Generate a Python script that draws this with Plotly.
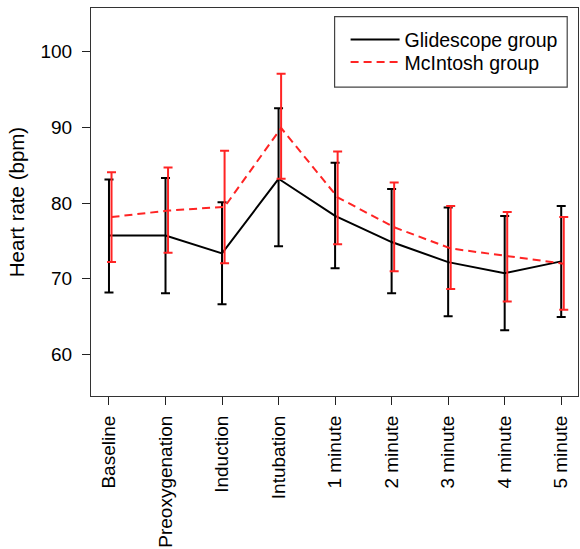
import plotly.graph_objects as go

categories = ["Baseline", "Preoxygenation", "Induction", "Intubation", "1 minute",
              "2 minute", "3 minute", "4 minute", "5 minute"]

glide_mean = [75.7, 75.7, 73.35, 83.2, 78.3, 74.85, 72.2, 70.75, 72.3]
glide_upper = [83.1, 83.3, 80.1, 92.5, 85.3, 81.85, 79.4, 78.3, 79.6]
glide_lower = [68.2, 68.1, 66.65, 74.3, 71.4, 68.1, 65.05, 63.2, 64.95]

mcin_mean = [78.15, 79.0, 79.5, 89.9, 80.75, 76.8, 74.0, 73.0, 72.0]
mcin_upper = [84.05, 84.7, 86.9, 97.05, 86.8, 82.7, 79.6, 78.8, 78.15]
mcin_lower = [72.2, 73.45, 72.05, 83.2, 74.55, 71.0, 68.65, 67.0, 65.9]

y_ticks = [60, 70, 80, 90, 100]

x_idx = list(range(len(categories)))
red_offset = 0.045
x_red = [i + red_offset for i in x_idx]

RED = "#ff2424"

# plot-area geometry in pixels (for paper-coordinate conversions)
L, R, T, B = 91.3, 578.5, 8.3, 395.7
PW, PH = R - L, B - T


def px(xp):
    return (xp - L) / PW


def py(yp):
    return 1 - (yp - T) / PH


fig = go.Figure()

fig.add_trace(go.Scatter(
    x=x_idx, y=glide_mean, mode="lines", name="Glidescope group",
    line=dict(color="black", width=2), legend="legend",
    error_y=dict(type="data", symmetric=False,
                 array=[u - m for u, m in zip(glide_upper, glide_mean)],
                 arrayminus=[m - l for m, l in zip(glide_mean, glide_lower)],
                 color="black", thickness=2, width=4.5),
))

fig.add_trace(go.Scatter(
    x=x_red, y=mcin_mean, mode="lines", name="McIntosh group",
    line=dict(color=RED, width=2, dash="8px,5px"), legend="legend2",
    error_y=dict(type="data", symmetric=False,
                 array=[u - m for u, m in zip(mcin_upper, mcin_mean)],
                 arrayminus=[m - l for m, l in zip(mcin_mean, mcin_lower)],
                 color=RED, thickness=2, width=4.5),
))

# legend frame
fig.add_shape(type="rect", xref="paper", yref="paper",
              x0=px(335), x1=px(567.7), y0=py(87.3), y1=py(17.0),
              line=dict(color="#444", width=1.2), fillcolor="white", layer="above")

leg_common = dict(xanchor="left", yanchor="middle", borderwidth=0,
                  bgcolor="rgba(0,0,0,0)", font=dict(size=19.5), itemwidth=49)

fig.update_layout(
    width=580, height=549,
    margin=dict(l=L, r=580 - R, t=T, b=549 - B, autoexpand=False),
    paper_bgcolor="white", plot_bgcolor="white",
    font=dict(family="Liberation Sans, Arial, sans-serif", color="black", size=19),
    showlegend=True,
    legend=dict(x=px(346), y=py(40), **leg_common),
    legend2=dict(x=px(346), y=py(62.5), **leg_common),
)

fig.update_xaxes(
    range=[-0.318, 8.297], tickmode="array", tickvals=x_idx, ticktext=categories,
    tickangle=-90, ticks="outside", ticklen=8, tickwidth=1.2, tickcolor="#222",
    showline=True, linecolor="#333", linewidth=1.2, mirror=True,
    showgrid=False, zeroline=False, tickfont=dict(size=19), ticklabelstandoff=3,
)
fig.update_yaxes(
    range=[54.53, 105.74], tickmode="array", tickvals=y_ticks,
    ticks="outside", ticklen=8, tickwidth=1.2, tickcolor="#222",
    showline=True, linecolor="#333", linewidth=1.2, mirror=True,
    showgrid=False, zeroline=False, tickfont=dict(size=19), ticklabelstandoff=6,
    title=dict(text="Heart rate (bpm)", font=dict(size=20.5), standoff=10),
)

fig.write_html("out.html", config={"displayModeBar": False},
               post_script="document.body.style.margin='0';")
